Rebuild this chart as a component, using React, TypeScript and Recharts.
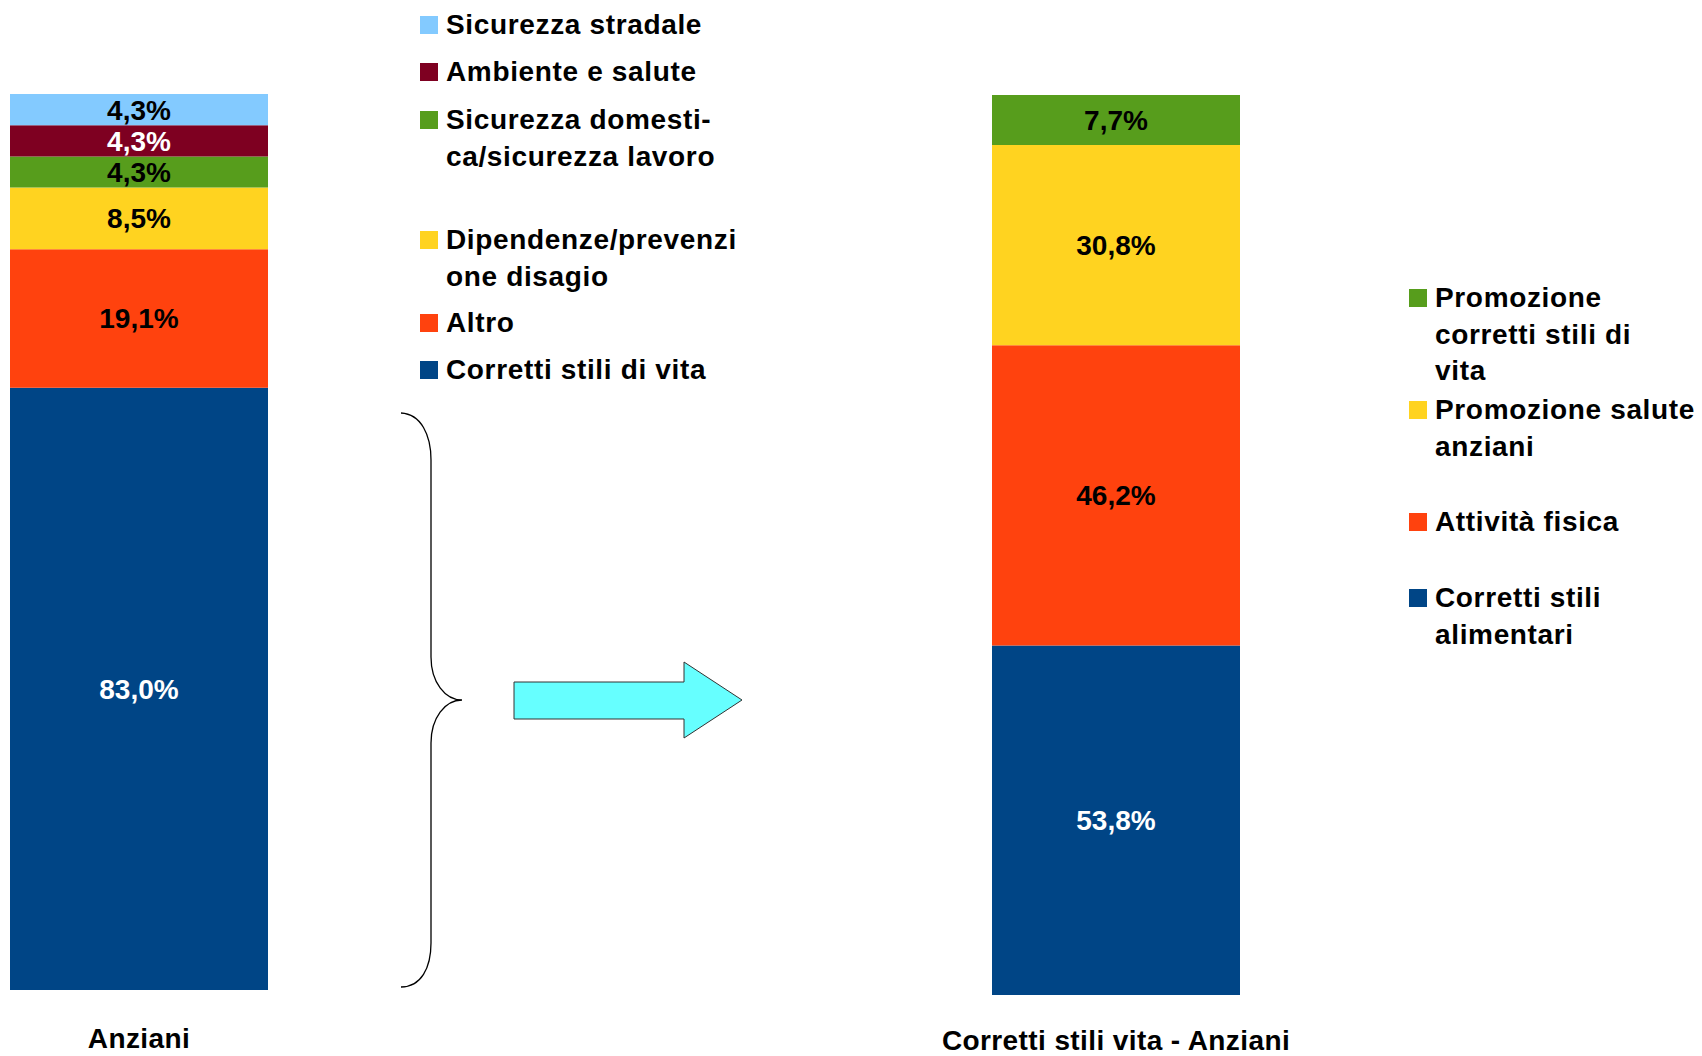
import { Bar, BarChart, LabelList, Legend, XAxis, YAxis } from 'recharts';

// --- data ---
const leftCategories = ['Anziani'];
const leftSeries = [
  'Corretti stili di vita',
  'Altro',
  'Dipendenze/prevenzi\none disagio',
  'Sicurezza domesti-\nca/sicurezza lavoro',
  'Ambiente e salute',
  'Sicurezza stradale',
];
const leftValues = [83.0, 19.1, 8.5, 4.3, 4.3, 4.3];

const rightCategories = ['Corretti stili vita - Anziani'];
const rightSeries = [
  'Corretti stili\nalimentari',
  'Attività fisica',
  'Promozione salute\nanziani',
  'Promozione\ncorretti stili di\nvita',
];
const rightValues = [53.8, 46.2, 30.8, 7.7];

// --- style ---
const FONT = '"Liberation Sans", Arial, sans-serif';
const leftColors = ['#004586', '#ff420e', '#ffd320', '#579d1c', '#7e0021', '#83caff'];
const leftLabelColors = ['#fff', '#000', '#000', '#000', '#fff', '#000'];
const rightColors = ['#004586', '#ff420e', '#ffd320', '#579d1c'];
const rightLabelColors = ['#fff', '#000', '#000', '#000'];

// top of each legend entry (top to bottom)
const leftLegendTops = [7, 54, 102, 222, 305, 352];
const rightLegendTops = [280, 392, 504, 580];

const fmt = (v: number) => `${v.toFixed(1).replace('.', ',')}%`;

const buildRows = (cats: string[], values: number[]) =>
  cats.map((c) => {
    const row: Record<string, string | number> = { category: c };
    values.forEach((v, i) => {
      row[`s${i}`] = v;
    });
    return row;
  });

const sum = (a: number[]) => a.reduce((s, v) => s + v, 0);
const idx = (item: any) => Number(String(item.dataKey).slice(1));

function LegendBlock({ payload, tops }: { payload?: any[]; tops: number[] }) {
  // top of stack first
  const items = [...(payload || [])].sort((a, b) => idx(b) - idx(a));
  return (
    <div style={{ position: 'relative', width: 0, height: 0 }}>
      {items.map((item, i) => (
        <div key={i} style={{ position: 'absolute', left: 0, top: tops[i] }}>
          <div
            style={{
              position: 'absolute',
              left: 0,
              top: 9,
              width: 18,
              height: 18,
              background: item.color,
            }}
          />
          <div
            style={{
              position: 'absolute',
              left: 26,
              top: 0,
              whiteSpace: 'pre',
              fontFamily: FONT,
              fontWeight: 'bold',
              fontSize: 28,
              lineHeight: '36.5px',
              letterSpacing: 0.65,
              color: '#000',
            }}
          >
            {item.value}
          </div>
        </div>
      ))}
    </div>
  );
}

const CategoryTick = ({ x, y, payload, dy }: any) => (
  <text
    x={x}
    y={y}
    dy={dy}
    textAnchor="middle"
    fill="#000"
    fontFamily={FONT}
    fontWeight="bold"
    fontSize={28}
    letterSpacing={0.4}
  >
    {payload.value}
  </text>
);

function StackChart({
  cats,
  series,
  values,
  colors,
  labelColors,
  width,
  margin,
  axisHeight,
  tickDy,
  legendLeft,
  legendTops,
}: any) {
  const data = buildRows(cats, values);
  return (
    <BarChart
      width={width}
      height={1056}
      data={data}
      margin={margin}
      barCategoryGap={0}
      style={{ overflow: 'visible' }}
    >
      <XAxis
        dataKey="category"
        axisLine={false}
        tickLine={false}
        height={axisHeight}
        interval={0}
        tick={<CategoryTick dy={tickDy} />}
      />
      <YAxis hide domain={[0, sum(values)]} />
      <Legend
        layout="horizontal"
        verticalAlign="middle"
        align="center"
        wrapperStyle={{ left: legendLeft, top: 0, width: 0, height: 0 }}
        content={(props: any) => <LegendBlock payload={props.payload} tops={legendTops} />}
      />
      {series.map((name: string, i: number) => (
        <Bar
          key={name}
          dataKey={`s${i}`}
          name={name}
          stackId="a"
          fill={colors[i]}
          isAnimationActive={false}
        >
          <LabelList
            dataKey={`s${i}`}
            position="center"
            formatter={fmt}
            fill={labelColors[i]}
            fontFamily={FONT}
            fontWeight="bold"
            fontSize={28}
          />
        </Bar>
      ))}
    </BarChart>
  );
}

export default function App() {
  return (
    <div style={{ position: 'absolute', left: 0, top: 0, width: 1702, height: 1056, background: '#fff' }}>
      <div style={{ position: 'absolute', left: 0, top: 0 }}>
        <StackChart
          cats={leftCategories}
          series={leftSeries}
          values={leftValues}
          colors={leftColors}
          labelColors={leftLabelColors}
          width={760}
          margin={{ top: 94, right: 492, left: 10, bottom: 0 }}
          axisHeight={66}
          tickDy={50}
          legendLeft={420}
          legendTops={leftLegendTops}
        />
      </div>
      <div style={{ position: 'absolute', left: 760, top: 0 }}>
        <StackChart
          cats={rightCategories}
          series={rightSeries}
          values={rightValues}
          colors={rightColors}
          labelColors={rightLabelColors}
          width={942}
          margin={{ top: 95, right: 462, left: 232, bottom: 0 }}
          axisHeight={61}
          tickDy={47}
          legendLeft={649}
          legendTops={rightLegendTops}
        />
      </div>
      {/* brace + arrow decoration between the two bars */}
      <svg
        width={1702}
        height={1056}
        style={{ position: 'absolute', left: 0, top: 0, pointerEvents: 'none' }}
      >
        <path
          d="M401,413 C421,414 431,435 431,460 L431,657 C431,682 445,700 462,700 C445,700 431,718 431,743 L431,943 C431,968 421,987 401,987"
          fill="none"
          stroke="#000"
          strokeWidth={1.3}
        />
        <polygon
          points="514,682 684,682 684,662 742,700 684,738 684,719 514,719"
          fill="#66ffff"
          stroke="#333"
          strokeWidth={1}
        />
      </svg>
    </div>
  );
}
